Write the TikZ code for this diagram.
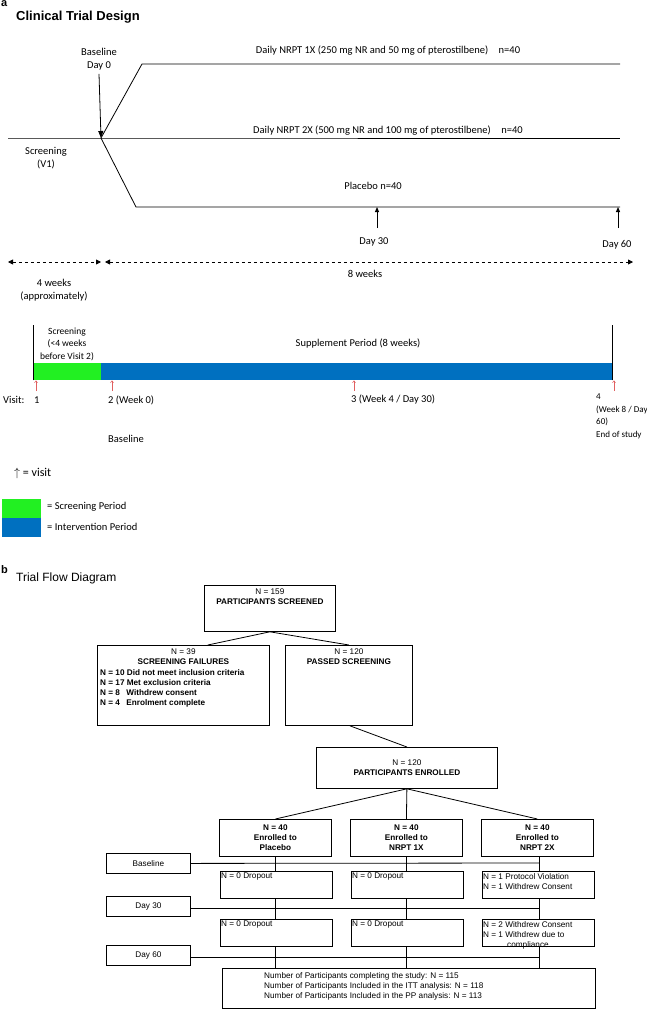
\documentclass[tikz,border=0pt]{standalone}
\usepackage{fontspec}
\setmainfont{Liberation Sans}
\newfontfamily\calfam{Carlito}
\usetikzlibrary{arrows.meta}
\definecolor{scrgreen}{HTML}{22F022}
\definecolor{intblue}{HTML}{0070C0}
\definecolor{visred}{HTML}{E06060}
\tikzset{
  ta/.style={font=\calfam\fontsize{10.5}{12.5}\selectfont, inner sep=0pt, align=center},
  tb/.style={font=\fontsize{8.2}{10}\selectfont, inner sep=0pt, align=center},
  bx/.style={draw, fill=white, line width=0.8pt, inner sep=0pt},
  ln/.style={line width=0.8pt},
  visit/.style={draw=visred, line width=0.5pt, -{Straight Barb[length=2pt,width=3pt]}},
  up/.style={line width=1pt, -{Triangle[length=5pt,width=4pt]}},
  dd/.style={line width=0.8pt, dashed, {Triangle[length=5pt,width=5pt]}-{Triangle[length=5pt,width=5pt]}},
}
\begin{document}
\begin{tikzpicture}[x=1pt,y=-1pt]
\useasboundingbox (0,0) rectangle (646,1009);
% ---------- part a ----------
\node[anchor=west, font=\bfseries\fontsize{11}{13}\selectfont, inner sep=0] (la) at (1,4) {a};
\node[anchor=west, font=\bfseries\fontsize{13}{15}\selectfont, inner sep=0] (ttla) at (16,17) {Clinical Trial Design};
\node[ta] (bl) at (99,59) {Baseline\\Day 0};
\coordinate (split) at (101,138);
\coordinate (scrS) at (8,138);
\coordinate (t1) at (142,64);
\coordinate (t1e) at (620,64);
\coordinate (t2e) at (620,138);
\coordinate (t3) at (136,207);
\coordinate (t3e) at (620,207);
\draw[ln] (scrS) -- (split) -- (t2e);
\draw[ln] (split) -- (t1) -- (t1e);
\draw[ln] (split) -- (t3) -- (t3e);
\draw[line width=0.8pt,-{Triangle[length=7pt,width=5pt]}] (bl.south) ++(0,4) -- (split);
\node[ta] (g1) at (388,51) {Daily NRPT 1X (250 mg NR and 50 mg of pterostilbene)\quad n=40};
\node[ta] (g2) at (388,131) {Daily NRPT 2X (500 mg NR and 100 mg of pterostilbene)\quad n=40};
\node[ta] (g3) at (373,186) {Placebo n=40};
\node[ta] (scr) at (46,158) {Screening\\(V1)};
\coordinate (a30) at (377,228);
\coordinate (a60) at (618,228);
\draw[up] (a30) -- (a30 |- t3e);
\draw[up] (a60) -- (a60 |- t3e);
\node[ta] (d30) at (374,242) {Day 30};
\node[ta] (d60) at (617,245) {Day 60};
\coordinate (da1) at (8,262); \coordinate (da2) at (101,262);
\coordinate (db1) at (105,262); \coordinate (db2) at (633,262);
\draw[dd] (da1) -- (da2);
\draw[dd] (db1) -- (db2);
\node[ta] (w4) at (54,290) {4 weeks\\(approximately)};
\node[ta] (w8) at (365,274) {8 weeks};
% timeline
\node[draw=none, fill=scrgreen, minimum width=68pt, minimum height=17pt, inner sep=0, anchor=north west] (grn) at (33,363) {};
\node[draw=none, fill=intblue, minimum width=511pt, minimum height=17pt, inner sep=0, anchor=north west] (blu) at (101,363) {};
\draw[line width=0.5pt] (grn.south west) -- ++(0,-55);
\draw[line width=0.5pt] (blu.south east) -- ++(0,-55);
\node[ta, font=\calfam\fontsize{9.5}{12.5}\selectfont] (scrp) at (67,344) {Screening\\(<4 weeks\\before Visit 2)};
\node[ta] (supp) at (358,344) {Supplement Period (8 weeks)};
\coordinate (v1) at (36,391); \coordinate (v2) at (112,391);
\coordinate (v3) at (354,391); \coordinate (v4) at (614,391);
\draw[visit] (v1) -- (v1 |- grn.south);
\draw[visit] (v2) -- (v2 |- grn.south);
\draw[visit] (v3) -- (v3 |- grn.south);
\draw[visit] (v4) -- (v4 |- grn.south);
\node[ta, anchor=west] (vis) at (3,400) {Visit:};
\node[ta, anchor=west] (vt1) at (34,400) {1};
\node[ta, anchor=west] (vt2) at (108,400) {2 (Week 0)};
\node[ta, anchor=west] (vt3) at (351,400) {3 (Week 4 / Day 30)};
\node[ta, anchor=north west, align=left, font=\calfam\fontsize{9}{12.5}\selectfont] (vt4) at (596,394) {4\\(Week 8 / Day\\60)\\End of study};
\node[ta, anchor=west] (vbl) at (108,439) {Baseline};
\node[ta, anchor=west, font=\calfam\fontsize{12}{14}\selectfont] (vleg) at (14,473) {$\uparrow$ = visit};
\node[fill=scrgreen, minimum width=39pt, minimum height=19pt, inner sep=0, anchor=north west] (lg) at (2,499) {};
\node[fill=intblue, minimum width=39pt, minimum height=19pt, inner sep=0, anchor=north west] (lb) at (2,518) {};
\node[ta, anchor=west] (lgt) at (47,507) {= Screening Period};
\node[ta, anchor=west] (lbt) at (47,527) {= Intervention Period};
% ---------- part b ----------
\node[anchor=west, font=\bfseries\fontsize{11}{13}\selectfont, inner sep=0] (lbb) at (1,570) {b};
\node[anchor=west, font=\fontsize{12}{14}\selectfont, inner sep=0] (ttlb) at (16,578) {Trial Flow Diagram};
% box1
\node[bx, minimum width=131pt, minimum height=46pt, anchor=north west] (b1) at (204,585) {};
\node[tb, anchor=north] (b1t) at ([yshift=-4pt]b1.north) {N = 159\\\textbf{PARTICIPANTS SCREENED}};
\node[bx, minimum width=172pt, minimum height=80pt, anchor=north west] (fail) at (97,645) {};
\node[tb, anchor=north] (failt) at ([yshift=-4pt]fail.north) {N = 39\\\textbf{SCREENING FAILURES}};
\node[tb, anchor=north west, align=left, font=\bfseries\fontsize{8.2}{10}\selectfont] (faill) at (100,669) {N = 10 Did not meet inclusion criteria\\N = 17 Met exclusion criteria\\N = 8\enspace\ Withdrew consent\\N = 4\enspace\ Enrolment complete};
\node[bx, minimum width=127pt, minimum height=80pt, anchor=north west] (pass) at (285,645) {};
\node[tb, anchor=north] (passt) at ([yshift=-4pt]pass.north) {N = 120\\\textbf{PASSED SCREENING}};
\draw[ln] (b1.south) -- ([xshift=-62pt]fail.north east);
\draw[ln] (b1.south) -- (pass.north);
\node[bx, minimum width=181pt, minimum height=41pt, anchor=north west] (enr) at (316,747) {};
\node[tb] (enrt) at (enr.center) {N = 120\\\textbf{PARTICIPANTS ENROLLED}};
\draw[ln] ([xshift=1pt]pass.south) -- (enr.north);
% arms
\tikzset{arm/.style={bx, minimum width=112pt, minimum height=37pt, anchor=north west, font=\bfseries\fontsize{8.2}{10}\selectfont, align=center}}
\node[arm] (pl) at (219,819) {N = 40\\Enrolled to\\Placebo};
\node[arm] (n1) at (350,819) {N = 40\\Enrolled to\\NRPT 1X};
\node[arm] (n2) at (481,819) {N = 40\\Enrolled to\\NRPT 2X};
\draw[ln] (enr.south) -- (pl.north);
\draw[ln] (enr.south) -- (n1.north);
\draw[ln] (enr.south) -- (n2.north);
% bottom box
\node[bx, minimum width=373pt, minimum height=40pt, anchor=north west] (fin) at (222,968) {};
\node[tb, anchor=north west, align=left] (fint) at (264,972) {Number of Participants completing the study: N = 115\\Number of Participants Included in the ITT analysis: N = 118\\Number of Participants Included in the PP analysis: N = 113};
% side boxes
\tikzset{side/.style={bx, minimum width=84pt, minimum height=20pt, anchor=north west, font=\fontsize{8.2}{10}\selectfont}}
\node[side] (sb) at (106,853) {Baseline};
\node[side] (s30) at (106,896) {Day 30};
\node[side] (s60) at (106,945) {Day 60};
\coordinate (e0) at (539,863);
\coordinate (e30) at (539,908);
\coordinate (e60) at (539,957);
\draw[ln] (sb.east) -- (e0);
\draw[ln] (s30.east |- e30) -- (e30);
\draw[ln] (s60.east |- e60) -- (e60);
\draw[ln] (pl.south) -- (pl.south |- fin.north);
\draw[ln] (n1.south) -- (n1.south |- fin.north);
\draw[ln] ([xshift=2pt]n2.south) -- ([xshift=2pt]n2.south |- fin.north);
% dropout boxes
\tikzset{dro/.style={bx, minimum width=112pt, minimum height=27pt, anchor=north west}}
\tikzset{drt/.style={tb, anchor=north west, align=left}}
\node[dro] (p1) at (220,871) {};
\node[dro] (q1) at (351,871) {};
\node[dro] (r1) at (482,871) {};
\node[dro] (p2) at (220,919) {};
\node[dro] (q2) at (351,919) {};
\node[dro] (r2) at (482,919) {};
\node[drt] (p1t) at ([xshift=1pt,yshift=-2pt]p1.north west) {N = 0 Dropout};
\node[drt] (q1t) at ([xshift=1pt,yshift=-2pt]q1.north west) {N = 0 Dropout};
\node[drt] (r1t) at ([xshift=1pt,yshift=-2pt]r1.north west) {N = 1 Protocol Violation\\N = 1 Withdrew Consent};
\node[drt] (p2t) at ([xshift=1pt,yshift=-2pt]p2.north west) {N = 0 Dropout};
\node[drt] (q2t) at ([xshift=1pt,yshift=-2pt]q2.north west) {N = 0 Dropout};
\node[drt] (r2t) at ([xshift=1pt,yshift=-2pt]r2.north west) {N = 2 Withdrew Consent\\N = 1 Withdrew due to\\\hspace*{24pt}compliance};
\end{tikzpicture}
\end{document}
